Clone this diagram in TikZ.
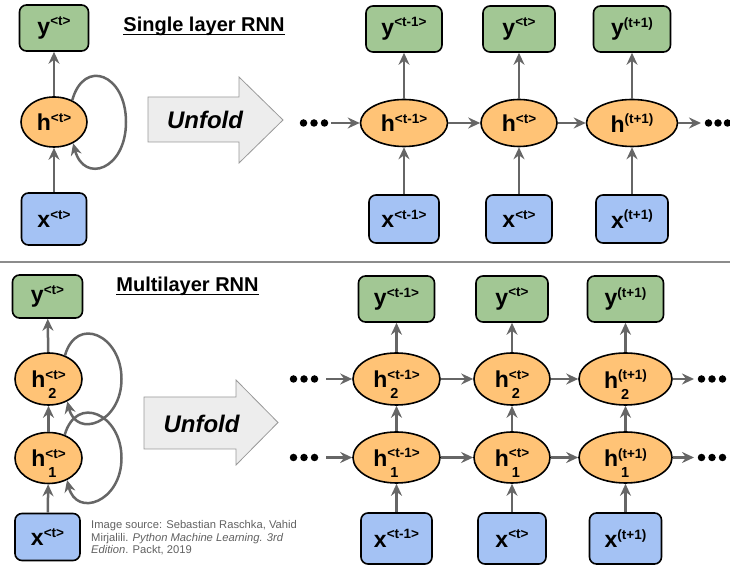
\documentclass[tikz,border=0pt]{standalone}
\usepackage{fontspec}
\setmainfont{Liberation Sans}
\usetikzlibrary{arrows.meta,calc,shapes.geometric}

\definecolor{ygreen}{HTML}{A2C794}
\definecolor{horange}{HTML}{FFC376}
\definecolor{xblue}{HTML}{A4C2F4}
\definecolor{edgegray}{HTML}{666666}
\definecolor{unfoldfill}{HTML}{EDEDED}
\definecolor{unfoldline}{HTML}{999999}

% symbol with superscript, and with superscript plus subscript
\newcommand\lab[2]{{\fontsize{23}{23}\selectfont #1}\raisebox{8.5pt}{\fontsize{13.5}{13.5}\selectfont #2}}
\newcommand\labs[3]{{\fontsize{23}{23}\selectfont #1}\rlap{\smash{\raisebox{-11pt}{\hspace{3pt}\fontsize{14.5}{14.5}\selectfont #3}}}\raisebox{8.5pt}{\fontsize{13.5}{13.5}\selectfont #2}}

\tikzset{
  cell/.style={draw=black, line width=1.6pt, rounded corners=7pt, inner sep=0pt, font=\bfseries},
  ybox/.style={cell, fill=ygreen},
  xbox/.style={cell, fill=xblue},
  hnode/.style={ellipse, draw=black, line width=1.6pt, fill=horange, inner sep=0pt, font=\bfseries},
  arr/.style={draw=edgegray, line width=2.5pt, -{Stealth[length=12pt,width=11pt,inset=4pt]}},
  dotmark/.style={circle, fill=black, inner sep=0pt, minimum size=7.5pt},
  title/.style={inner sep=0pt, anchor=base, font=\bfseries\fontsize{20}{20}\selectfont},
  unfoldtext/.style={inner sep=0pt, font=\bfseries\itshape\fontsize{24}{24}\selectfont},
  unfoldshape/.style={draw=unfoldline, line width=0.8pt, fill=unfoldfill},
}

\begin{document}
\begin{tikzpicture}[x=1pt,y=1pt]
\useasboundingbox (0,0) rectangle (730,569);

% ---------------- single layer, folded ----------------
\node[ybox, minimum width=69, minimum height=46] (yA) at (54,541) {\lab{y}{<t>}};
\node[hnode, minimum width=66, minimum height=50] (hA) at (54,447) {\lab{h}{<t>}};
\node[xbox, minimum width=65, minimum height=52] (xA) at (54,350) {\lab{x}{<t>}};
\draw[arr] (xA) -- (hA);
\draw[arr] (hA) -- (yA);
\draw[arr] (hA.50) .. controls ($(hA)+(30,64)$) and ($(hA)+(72,48)$) .. ($(hA)+(72,0)$)
                   .. controls ($(hA)+(72,-48)$) and ($(hA)+(30,-62)$) .. (hA.-48);

\node[title] (tA) at (204,537) {Single layer RNN};
\draw[line width=1.4pt] ([yshift=-2.6pt]tA.base west) -- ([yshift=-2.6pt]tA.base east);

\draw[unfoldshape] (148,427) -- (239,427) -- (239,406) -- (283,449) -- (239,492) -- (239,472) -- (148,472) -- cycle;
\node[unfoldtext] (uA) at (205,449) {Unfold};

% ---------------- single layer, unfolded ----------------
\node[ybox, minimum width=76, minimum height=46] (y1) at (404,540) {\lab{y}{<t-1>}};
\node[ybox, minimum width=72, minimum height=46] (y2) at (519,540) {\lab{y}{<t>}};
\node[ybox, minimum width=77, minimum height=46] (y3) at (632,540) {\lab{y}{(t+1)}};
\node[hnode, minimum width=87, minimum height=47] (h1) at (404,446) {\lab{h}{<t-1>}};
\node[hnode, minimum width=76, minimum height=47] (h2) at (519,446) {\lab{h}{<t>}};
\node[hnode, minimum width=91, minimum height=47] (h3) at (632,446) {\lab{h}{(t+1)}};
\node[xbox, minimum width=70, minimum height=48] (x1) at (404,350) {\lab{x}{<t-1>}};
\node[xbox, minimum width=66, minimum height=48] (x2) at (519,350) {\lab{x}{<t>}};
\node[xbox, minimum width=72, minimum height=48] (x3) at (632,350) {\lab{x}{(t+1)}};
\foreach \c in {1,2,3} {
  \draw[arr] (x\c) -- (h\c);
  \draw[arr] (h\c) -- (y\c);
}
\draw[arr] (h1) -- (h2);
\draw[arr] (h2) -- (h3);
\foreach \px in {303.5,314,324.5} \node[dotmark] at (\px,446) {};
\foreach \px in {708.5,718,727.5} \node[dotmark] at (\px,446) {};
\coordinate (inA) at (331,446);
\coordinate (outA) at (701,446);
\draw[arr] (inA) -- (h1);
\draw[arr] (h3) -- (outA);

% ---------------- divider ----------------
\draw[draw=black!45, line width=1.2pt] (0,307) -- (730,307);

% ---------------- multilayer, folded ----------------
\node[ybox, minimum width=70, minimum height=43] (yB) at (47.5,272.5) {\lab{y}{<t>}};
\node[hnode, minimum width=67, minimum height=52] (gB) at (48.5,190) {\labs{h}{<t>}{2}};
\node[hnode, minimum width=67, minimum height=51] (hB) at (48.5,111) {\labs{h}{<t>}{1}};
\node[xbox, minimum width=65, minimum height=47] (xB) at (47.5,32) {\lab{x}{<t>}};
\draw[arr] (xB) -- (hB);
\draw[arr] (hB) -- (gB);
\draw[arr] (gB) -- (yB);
\foreach \n in {gB,hB}
  \draw[arr] (\n.55) .. controls ($(\n)+(28,64)$) and ($(\n)+(73,44)$) .. ($(\n)+(73,0)$)
                     .. controls ($(\n)+(73,-44)$) and ($(\n)+(28,-60)$) .. (\n.-50);

\node[title] (tB) at (187.5,277) {Multilayer RNN};
\draw[line width=1.4pt] ([yshift=-2.6pt]tB.base west) -- ([yshift=-2.6pt]tB.base east);

\draw[unfoldshape] (144,120) -- (236,120) -- (236,104) -- (278,146.5) -- (236,189) -- (236,172) -- (144,172) -- cycle;
\node[unfoldtext] (uB) at (201.5,145) {Unfold};

\node[anchor=north west, inner sep=0pt, align=left, text=black!62,
      font=\fontsize{11.2}{12.8}\selectfont] (src) at (91,49)
  {Image source: Sebastian Raschka, Vahid\\
   Mirjalili. \textit{Python Machine Learning. 3rd}\\
   \textit{Edition}. Packt, 2019};

% ---------------- multilayer, unfolded ----------------
\node[ybox, minimum width=76, minimum height=46] (ty1) at (396.5,270) {\lab{y}{<t-1>}};
\node[ybox, minimum width=72, minimum height=46] (ty2) at (512,270) {\lab{y}{<t>}};
\node[ybox, minimum width=76, minimum height=46] (ty3) at (625.5,270) {\lab{y}{(t+1)}};
\node[hnode, minimum width=87, minimum height=52] (u1) at (396.5,190) {\labs{h}{<t-1>}{2}};
\node[hnode, minimum width=76, minimum height=52] (u2) at (512,190) {\labs{h}{<t>}{2}};
\node[hnode, minimum width=93, minimum height=52] (u3) at (625.5,190) {\labs{h}{(t+1)}{2}};
\node[hnode, minimum width=87, minimum height=51] (v1) at (396.5,111.5) {\labs{h}{<t-1>}{1}};
\node[hnode, minimum width=76, minimum height=51] (v2) at (512,111.5) {\labs{h}{<t>}{1}};
\node[hnode, minimum width=93, minimum height=51] (v3) at (625.5,111.5) {\labs{h}{(t+1)}{1}};
\node[xbox, minimum width=71, minimum height=51] (xb1) at (396.5,30.5) {\lab{x}{<t-1>}};
\node[xbox, minimum width=68, minimum height=51] (xb2) at (512,30.5) {\lab{x}{<t>}};
\node[xbox, minimum width=72, minimum height=51] (xb3) at (625.5,30.5) {\lab{x}{(t+1)}};
\foreach \c in {1,2,3} {
  \draw[arr] (xb\c) -- (v\c);
  \draw[arr] (v\c) -- (u\c);
  \draw[arr] (u\c) -- (ty\c);
}
\draw[arr] (u1) -- (u2);
\draw[arr] (u2) -- (u3);
\draw[arr] (v1) -- (v2);
\draw[arr] (v2) -- (v3);
\foreach \py in {190,111.5} {
  \foreach \px in {293.5,304,314.5} \node[dotmark] at (\px,\py) {};
  \foreach \px in {701.5,712,722.5} \node[dotmark] at (\px,\py) {};
}
\coordinate (inU) at (326,190);
\coordinate (outU) at (694,190);
\coordinate (inV) at (326,111.5);
\coordinate (outV) at (694,111.5);
\draw[arr] (inU) -- (u1);
\draw[arr] (u3) -- (outU);
\draw[arr] (inV) -- (v1);
\draw[arr] (v3) -- (outV);
\end{tikzpicture}
\end{document}
